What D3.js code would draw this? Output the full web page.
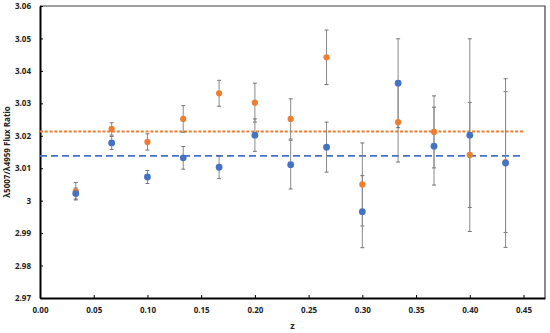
<!DOCTYPE html>
<html><head><meta charset="utf-8">
<script src="https://cdn.jsdelivr.net/npm/d3@7"></script>
<style>body{margin:0;background:#fff;} text{font-family:"Open Sans","Liberation Sans",sans-serif;}</style>
</head><body>
<svg id="c" width="550" height="333"></svg>
<script>
const zValues = [0.0333,0.0667,0.1,0.1333,0.1667,0.2,0.2333,0.2667,0.3,0.3333,0.3667,0.4,0.4333];
const blueRatio = [3.0022,3.0178,3.0073,3.0132,3.0103,3.0202,3.0111,3.0165,2.9966,3.0362,3.0168,3.0202,3.0116];
const blueErr   = [0.0017,0.0020,0.0020,0.0035,0.0035,0.0050,0.0075,0.0077,0.0111,0.0137,0.0120,0.0297,0.0260];
const orangeRatio = [3.0029,3.0221,3.0181,3.0252,3.0331,3.0302,3.0252,3.0442,3.0050,3.0242,3.0212,3.0141,3.0119];
const orangeErr   = [0.0027,0.0019,0.0025,0.0041,0.0040,0.0060,0.0062,0.0084,0.0128,0.0123,0.0111,0.0162,0.0217];
const blueMean = 3.0138, orangeMean = 3.0213;
const xTicks = [0,0.05,0.1,0.15,0.2,0.25,0.3,0.35,0.4,0.45];
const yTicks = [2.97,2.98,2.99,3.00,3.01,3.02,3.03,3.04,3.05,3.06];
const xTitle = "z", yTitle = "λ5007/λ4959 Flux Ratio";

const svg = d3.select("#c");
const L=40,R=545,T=6,B=298;
const x = d3.scaleLinear().domain([0,0.47]).range([L,R]);
const y = d3.scaleLinear().domain([2.97,3.06]).range([B,T]);

svg.append("path").attr("d",`M${L},${T}H${R}V${B}`).attr("fill","none").attr("stroke","#404040").attr("stroke-width",1.2);

const gx = svg.append("g").attr("transform",`translate(0,${B})`)
  .call(d3.axisBottom(x).tickValues(xTicks).tickFormat(d3.format(".2f")).tickSizeInner(-3).tickSizeOuter(0).tickPadding(9));
const gy = svg.append("g").attr("transform",`translate(${L},0)`)
  .call(d3.axisLeft(y).tickValues(yTicks).tickFormat(d=>d===3?"3":d3.format(".2f")(d)).tickSizeInner(-3).tickSizeOuter(0).tickPadding(9));
[gx,gy].forEach(g=>{
  g.select(".domain").attr("stroke","#000").attr("stroke-width",2);
  g.selectAll(".tick line").attr("stroke","#000").attr("stroke-width",1);
  g.selectAll("text").attr("font-size",8).attr("font-weight","bold").attr("fill","#222").attr("font-family",'"Open Sans",sans-serif');
});

svg.append("line").attr("x1",x(0)).attr("x2",x(0.45)).attr("y1",y(orangeMean)).attr("y2",y(orangeMean))
  .attr("stroke","#ED7D31").attr("stroke-width",2).attr("stroke-dasharray","3,1.8");
svg.append("line").attr("x1",x(0)).attr("x2",x(0.45)).attr("y1",y(blueMean)).attr("y2",y(blueMean))
  .attr("stroke","#4472C4").attr("stroke-width",1.8).attr("stroke-dasharray","7,4");

function series(vals, errs){
  const g = svg.append("g");
  zValues.forEach((z,i)=>{
    const cx=x(z), t=y(vals[i]+errs[i]), b=y(vals[i]-errs[i]);
    g.append("line").attr("x1",cx).attr("x2",cx).attr("y1",t).attr("y2",b).attr("stroke","#8a8a8a").attr("stroke-width",1);
    [t,b].forEach(yy=>g.append("line").attr("x1",cx-2).attr("x2",cx+2).attr("y1",yy).attr("y2",yy).attr("stroke","#555").attr("stroke-width",0.8));
  });
}
series(orangeRatio, orangeErr);
series(blueRatio, blueErr);
svg.append("g").selectAll("circle").data(zValues).join("circle")
  .attr("cx",d=>x(d)).attr("cy",(d,i)=>y(orangeRatio[i])).attr("r",3.1).attr("fill","#ED7D31");
svg.append("g").selectAll("circle").data(zValues).join("circle")
  .attr("cx",d=>x(d)).attr("cy",(d,i)=>y(blueRatio[i])).attr("r",3.4).attr("fill","#4472C4");

svg.append("text").attr("x",(L+R)/2).attr("y",329).attr("text-anchor","middle")
  .attr("font-size",9).attr("font-weight","bold").attr("fill","#222").text(xTitle);
svg.append("text").attr("transform",`translate(10,${(T+B)/2}) rotate(-90)`).attr("text-anchor","middle")
  .attr("font-size",8).attr("font-weight","bold").attr("fill","#222").text(yTitle);
</script>
</body></html>
